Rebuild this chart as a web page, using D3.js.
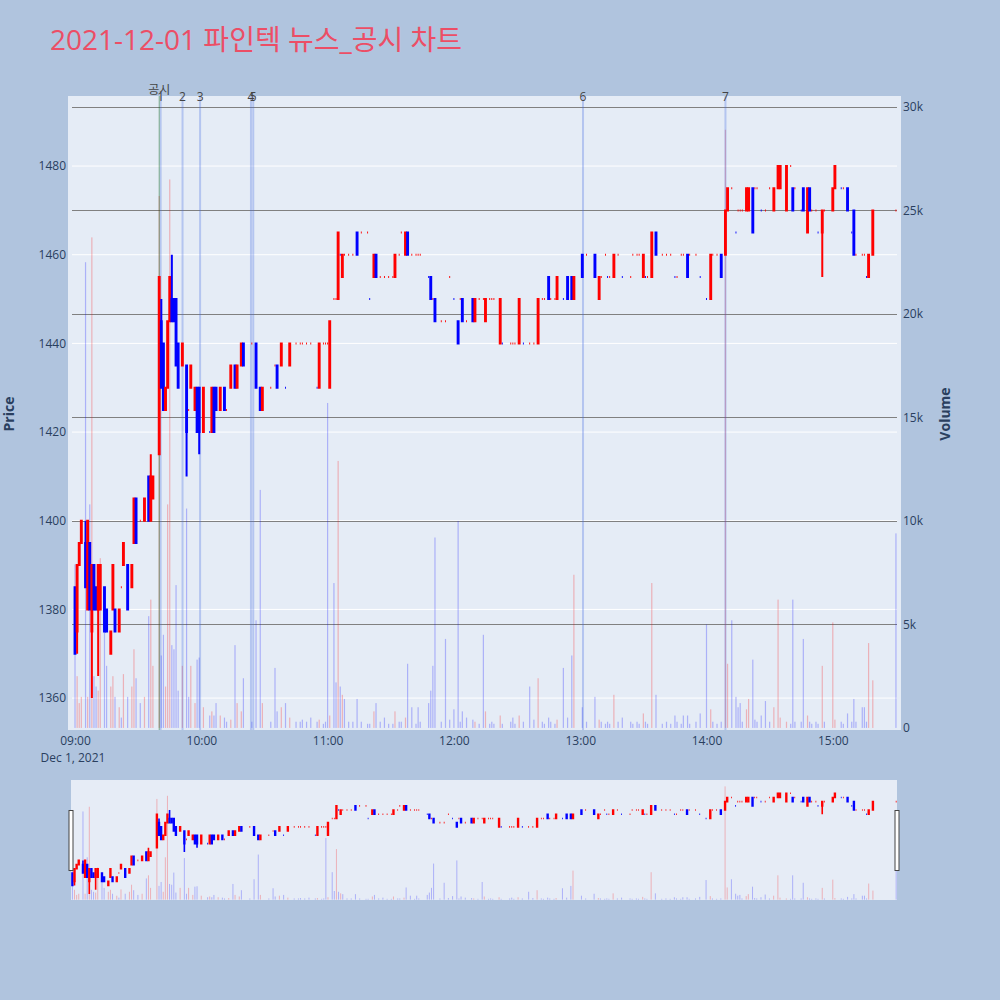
<!DOCTYPE html>
<html><head><meta charset="utf-8">
<script src="https://cdn.jsdelivr.net/npm/d3@7"></script>
<style>body{margin:0;background:#b0c4de;}svg{display:block;font-family:"Open Sans","Noto Sans CJK KR",sans-serif;}</style>
</head><body><svg id="c" width="1000" height="1000"></svg>
<script>
// ---------- DATA ----------
const times = [
 // 09
 "09:00","09:01","09:02","09:03","09:05","09:06","09:07","09:08","09:09","09:10","09:11","09:12","09:14","09:15","09:17","09:18","09:19","09:21","09:22","09:23","09:25","09:27","09:28","09:29","09:31","09:33","09:35","09:36","09:37","09:40","09:41","09:42","09:43","09:44","09:45","09:46","09:47","09:48","09:49","09:51","09:53","09:54","09:55","09:57","09:58","09:59",
 // 10
 "10:01","10:04","10:05","10:06","10:07","10:09","10:11","10:12","10:14","10:16","10:17","10:19","10:20","10:24","10:26","10:28","10:29","10:33","10:35","10:36","10:38","10:40","10:42","10:45","10:47","10:48","10:50","10:52","10:55","10:56","10:58","10:59",
 // 11
 "11:00","11:01","11:03","11:04","11:05","11:06","11:07","11:08","11:10","11:12","11:14","11:16","11:19","11:20","11:22","11:23","11:25","11:27","11:29","11:31","11:32","11:34","11:35","11:37","11:38","11:40","11:42","11:43","11:44","11:48","11:49","11:50","11:51","11:54","11:56","11:58",
 // 12
 "12:00","12:02","12:03","12:04","12:06","12:09","12:10","12:12","12:14","12:15","12:17","12:18","12:19","12:22","12:23","12:27","12:28","12:29","12:31","12:33","12:36","12:38","12:40","12:42","12:43","12:45","12:46","12:48","12:49","12:52","12:54","12:56","12:57",
 // 13
 "13:01","13:03","13:07","13:09","13:10","13:12","13:13","13:14","13:16","13:18","13:20","13:24","13:25","13:27","13:28","13:30","13:31","13:32","13:34","13:36","13:39","13:41","13:43","13:45","13:46","13:48","13:49","13:51","13:52","13:55","13:57",
 // 14
 "14:00","14:02","14:03","14:05","14:07","14:09","14:10","14:12","14:14","14:15","14:16","14:17","14:19","14:20","14:22","14:23","14:24","14:26","14:28","14:30","14:32","14:34","14:35","14:38","14:40","14:41","14:42","14:45","14:46","14:48","14:49","14:50","14:52","14:53","14:55","14:56",
 // 15
 "15:00","15:01","15:04","15:05","15:07","15:09","15:10","15:11","15:14","15:15","15:16","15:17","15:19","15:30"
];
const opens = [
 1385,1375,1390,1395,1395,1380,1395,1375,1390,1385,1380,1380,1385,1380,1370,1380,1380,1375,1385,1390,1390,1385,1395,1405,1400,1400,1410,1400,1405,1415,1445,1440,1425,1430,1445,1450,1450,1450,1440,1435,1435,1425,1430,1425,1430,1430,
 1420,1420,1420,1430,1430,1425,1430,1425,1430,1435,1430,1435,1440,1440,1440,1430,1425,1430,1435,1435,1435,1430,1435,1440,1440,1440,1440,1440,1430,1430,1440,1440,
 1440,1430,1450,1450,1450,1460,1455,1460,1460,1460,1465,1465,1465,1450,1455,1460,1455,1455,1455,1455,1455,1460,1465,1460,1465,1460,1460,1460,1460,1455,1455,1450,1450,1445,1445,1455,
 1450,1445,1450,1450,1445,1450,1445,1450,1450,1445,1450,1450,1450,1440,1440,1440,1440,1440,1440,1440,1440,1440,1440,1450,1450,1455,1450,1450,1450,1450,1455,1455,1450,
 1460,1460,1460,1450,1455,1460,1455,1455,1455,1460,1455,1455,1460,1460,1460,1455,1455,1455,1455,1465,1460,1460,1460,1455,1455,1460,1460,1460,1460,1460,1455,
 1450,1450,1460,1460,1460,1460,1470,1475,1465,1470,1470,1470,1470,1470,1475,1475,1475,1470,1470,1475,1470,1475,1475,1470,1480,1475,1475,1470,1475,1465,1475,1470,1470,1465,1465,1470,
 1470,1475,1475,1475,1475,1465,1470,1460,1460,1460,1455,1455,1460,1470
];
const highs = [
 1385,1390,1395,1400,1400,1400,1395,1390,1390,1385,1390,1390,1385,1380,1375,1390,1380,1380,1385,1395,1390,1390,1405,1405,1400,1405,1410,1415,1410,1455,1450,1440,1430,1445,1455,1460,1450,1450,1440,1440,1435,1425,1435,1430,1430,1430,
 1430,1420,1430,1430,1430,1430,1430,1425,1435,1435,1435,1440,1440,1440,1440,1430,1430,1430,1435,1435,1440,1430,1440,1440,1440,1440,1440,1440,1430,1440,1440,1440,
 1440,1445,1450,1450,1465,1460,1460,1460,1460,1460,1465,1465,1465,1450,1460,1460,1455,1455,1455,1455,1460,1460,1465,1465,1465,1460,1460,1460,1460,1455,1455,1450,1450,1445,1445,1455,
 1450,1445,1450,1450,1445,1450,1450,1450,1450,1450,1450,1450,1450,1450,1440,1440,1440,1440,1450,1440,1440,1440,1450,1450,1450,1455,1450,1450,1455,1450,1455,1455,1455,
 1460,1460,1460,1455,1455,1460,1455,1455,1460,1460,1455,1455,1460,1460,1460,1460,1455,1455,1465,1465,1460,1460,1460,1455,1455,1460,1460,1460,1460,1460,1455,
 1450,1460,1460,1460,1460,1470,1475,1475,1465,1470,1470,1470,1475,1475,1475,1475,1475,1470,1470,1475,1475,1480,1480,1480,1480,1475,1475,1470,1475,1475,1475,1470,1470,1465,1470,1470,
 1475,1480,1475,1475,1475,1465,1470,1460,1460,1460,1455,1460,1470,1470
];
const lows = [
 1370,1370,1390,1395,1385,1380,1380,1360,1380,1380,1365,1380,1375,1375,1370,1380,1375,1375,1385,1390,1380,1385,1395,1395,1400,1400,1400,1400,1405,1415,1430,1425,1425,1430,1445,1445,1445,1435,1430,1435,1410,1425,1430,1425,1420,1415,
 1420,1420,1420,1420,1425,1425,1425,1425,1430,1430,1430,1435,1435,1440,1430,1425,1425,1430,1435,1430,1435,1430,1435,1440,1440,1440,1440,1440,1430,1430,1440,1440,
 1440,1430,1450,1450,1450,1460,1455,1460,1460,1460,1460,1465,1465,1450,1455,1455,1455,1455,1455,1455,1455,1460,1465,1460,1460,1460,1460,1460,1460,1455,1450,1450,1445,1445,1445,1455,
 1450,1440,1450,1445,1445,1445,1445,1450,1450,1445,1450,1450,1450,1440,1440,1440,1440,1440,1440,1440,1440,1440,1440,1450,1450,1450,1450,1450,1450,1450,1450,1450,1450,
 1455,1460,1455,1450,1455,1460,1455,1455,1455,1460,1455,1455,1460,1460,1460,1455,1455,1455,1455,1460,1460,1460,1460,1455,1455,1460,1460,1455,1460,1460,1455,
 1450,1450,1460,1460,1455,1460,1470,1475,1465,1470,1470,1470,1470,1470,1465,1475,1475,1470,1470,1475,1470,1475,1475,1470,1480,1470,1475,1470,1470,1465,1470,1470,1470,1465,1455,1470,
 1470,1475,1475,1475,1470,1465,1460,1460,1460,1460,1455,1455,1460,1470
];
const closes = [
 1370,1390,1395,1400,1385,1400,1380,1390,1380,1380,1390,1390,1375,1375,1375,1390,1375,1380,1385,1395,1380,1390,1405,1395,1400,1405,1400,1410,1410,1455,1430,1425,1430,1445,1455,1445,1445,1435,1430,1440,1420,1425,1435,1430,1420,1420,
 1430,1420,1430,1420,1425,1430,1425,1425,1435,1430,1435,1440,1435,1440,1430,1425,1430,1430,1435,1430,1440,1430,1440,1440,1440,1440,1440,1440,1430,1440,1440,1440,
 1440,1445,1450,1450,1465,1460,1460,1460,1460,1460,1460,1465,1465,1450,1460,1455,1455,1455,1455,1455,1460,1460,1465,1465,1460,1460,1460,1460,1460,1455,1450,1450,1445,1445,1445,1455,
 1450,1440,1450,1445,1445,1445,1450,1450,1450,1450,1450,1450,1450,1450,1440,1440,1440,1440,1450,1440,1440,1440,1450,1450,1450,1450,1450,1450,1455,1450,1450,1450,1455,
 1455,1460,1455,1455,1455,1460,1455,1455,1460,1460,1455,1455,1460,1460,1460,1460,1455,1455,1465,1460,1460,1460,1460,1455,1455,1460,1460,1455,1460,1460,1455,
 1450,1460,1460,1460,1455,1470,1475,1475,1465,1470,1470,1470,1475,1475,1465,1475,1475,1470,1470,1475,1475,1480,1480,1480,1480,1470,1475,1470,1470,1475,1470,1470,1470,1465,1470,1470,
 1475,1480,1475,1475,1470,1465,1460,1460,1460,1460,1455,1460,1470,1470
];
const volumes = [
 7900,2500,1200,1500,22500,1500,10800,23700,2500,2000,1800,8200,6400,3000,2000,2500,1500,1000,500,2600,1500,2000,3800,2400,1200,1500,5400,6200,3000,25700,3500,4500,2000,10800,26500,4000,3800,6900,1800,3000,10600,1500,3000,1200,3300,3400,
 1000,600,800,600,1200,600,500,300,400,4000,1200,800,2400,300,5200,11500,1200,300,2900,800,1000,1200,500,300,300,400,300,500,300,400,200,300,
 15700,600,7000,2200,12900,2000,1600,1400,300,300,1400,300,200,200,800,1200,300,500,200,200,800,300,300,500,3100,1000,200,1000,300,1200,1800,3000,9200,300,4300,400,
 900,10000,300,800,500,400,300,200,4500,800,200,300,200,600,200,300,500,200,600,300,2000,400,2400,300,200,500,300,200,400,2900,500,3500,7400,
 1000,300,1500,400,300,200,300,200,1600,300,500,300,200,300,200,700,300,200,7000,1600,200,300,200,600,300,200,600,600,200,300,700,
 5000,900,300,200,300,28900,3100,5200,1500,1000,1200,300,900,1400,3300,400,300,600,1300,300,1000,6200,500,300,200,6200,300,300,4300,600,300,200,300,200,3000,300,
 5100,400,300,200,700,300,1400,300,1000,1000,300,4100,2300,9400
];
const newsTimes = ["09:40:40","09:51:05","09:59:25","10:23:35","10:24:40","13:01:20","14:09:00"];
const newsLabels = ["1","2","3","4","5","6","7"];
const disclosureTimes = ["09:40:00"];
const disclosureLabels = ["공시"];
const priceTicks = [1360,1380,1400,1420,1440,1460,1480];
const volumeTicks = [0,5000,10000,15000,20000,25000,30000];
const timeTicks = ["09:00","10:00","11:00","12:00","13:00","14:00","15:00"];
const titleText = "2021-12-01 파인텍 뉴스_공시 차트";

// ---------- CHART ----------
const parse = d3.timeParse("%Y-%m-%d %H:%M:%S");
const T = s => parse("2021-12-01 " + (s.length === 5 ? s + ":00" : s));
const data = times.map((t, i) => ({t: T(t), o: opens[i], h: highs[i], l: lows[i], c: closes[i], v: volumes[i]}));
data.forEach((d, i) => {
  d.inc = d.c > d.o || (d.c === d.o && (i === 0 || d.c >= data[i - 1].c));
  d.vinc = d.c > d.o;
});
const INC = "#ff0000", DEC = "#0000ff";
const svg = d3.select("#c");
const P = {x0: 68, x1: 901, y0: 96, y1: 730, gx0: 72, gx1: 897};
const x = d3.scaleTime().domain([T("08:56:40"), T("15:32:24")]).range([P.x0, P.x1]);
const yP = d3.scaleLinear().domain([1352.8, 1495.8]).range([P.y1, P.y0]);
const yV = d3.scaleLinear().domain([-100, 30530]).range([P.y1, P.y0]);

svg.append("rect").attr("width", 1000).attr("height", 1000).attr("fill", "#b0c4de");
svg.append("text").attr("x", 50).attr("y", 50).attr("font-size", 28).attr("fill", "#ec4e66").text(titleText);

// plot background
svg.append("rect").attr("x", P.x0).attr("y", P.y0).attr("width", P.x1 - P.x0).attr("height", P.y1 - P.y0).attr("fill", "#e5ecf6");

// price grid (white)
svg.append("g").selectAll("line").data(priceTicks).join("line")
  .attr("x1", P.gx0).attr("x2", P.gx1).attr("y1", d => yP(d)).attr("y2", d => yP(d))
  .attr("stroke", "#ffffff").attr("stroke-width", 1);
// volume grid (gray)
svg.append("g").selectAll("line").data(volumeTicks.filter(d => d > 0)).join("line")
  .attr("x1", P.gx0).attr("x2", P.gx1).attr("y1", d => Math.round(yV(d)) + 0.5).attr("y2", d => Math.round(yV(d)) + 0.5)
  .attr("stroke", "#808080").attr("stroke-width", 1.2);

function drawVolume(g, xs, yv, w) {
  g.selectAll("rect").data(data).join("rect")
    .attr("x", d => xs(d.t) - w / 2).attr("width", w)
    .attr("y", d => yv(d.v)).attr("height", d => Math.max(0, yv(0) - yv(d.v)))
    .attr("fill", d => d.vinc ? "rgba(255,0,0,0.25)" : "rgba(0,0,255,0.25)");
}
function candlePath(d, xs, yp, hw) {
  const cx = xs(d.t);
  const top = yp(Math.max(d.o, d.c)), bot = yp(Math.min(d.o, d.c));
  return `M${cx - hw},${bot}V${top}H${cx + hw}V${bot}Z` +
         `M${cx},${top}V${yp(d.h)}M${cx},${bot}V${yp(d.l)}`;
}
function drawCandles(g, xs, yp, hw, sw) {
  g.selectAll("path").data(data).join("path")
    .attr("d", d => candlePath(d, xs, yp, hw))
    .attr("fill", d => d.inc ? "rgba(255,0,0,0.5)" : "rgba(0,0,255,0.5)")
    .attr("stroke", d => d.inc ? INC : DEC).attr("stroke-width", sw);
}

drawVolume(svg.append("g"), x, yV, 1.2);

// news lines
const gN = svg.append("g");
gN.selectAll("line").data(newsTimes).join("line")
  .attr("x1", d => x(T(d))).attr("x2", d => x(T(d))).attr("y1", P.y0).attr("y2", P.y1)
  .attr("stroke", "rgba(65,105,225,0.3)").attr("stroke-width", 2);
gN.selectAll("line.d").data(disclosureTimes).join("line").attr("class", "d")
  .attr("x1", d => x(T(d))).attr("x2", d => x(T(d))).attr("y1", P.y0).attr("y2", P.y1)
  .attr("stroke", "rgba(0,100,0,0.45)").attr("stroke-width", 1);

drawCandles(svg.append("g"), x, yP, 0.45, 2);

// news labels
svg.append("g").selectAll("text").data(newsTimes).join("text")
  .attr("x", d => x(T(d))).attr("y", 101).attr("text-anchor", "middle")
  .attr("font-size", 12).attr("fill", "#444").text((d, i) => newsLabels[i]);
svg.append("g").selectAll("text").data(disclosureTimes).join("text")
  .attr("x", d => x(T(d))).attr("y", 94).attr("text-anchor", "middle")
  .attr("font-size", 12).attr("fill", "#444").text((d, i) => disclosureLabels[i]);

// axes
const axisColor = "#2a3f5f";
const gx = svg.append("g").attr("transform", `translate(0,${P.y1})`)
  .call(d3.axisBottom(x).tickValues(timeTicks.map(T)).tickFormat(d3.timeFormat("%H:%M")).tickSize(0).tickPadding(6));
const gl = svg.append("g").attr("transform", `translate(${P.x0},0)`)
  .call(d3.axisLeft(yP).tickValues(priceTicks).tickFormat(d3.format("d")).tickSize(0).tickPadding(2));
const gr = svg.append("g").attr("transform", `translate(${P.x1},0)`)
  .call(d3.axisRight(yV).tickValues(volumeTicks).tickFormat(d3.format("~s")).tickSize(0).tickPadding(2));
[gx, gl, gr].forEach(g => {
  g.select(".domain").remove();
  g.selectAll("text").attr("font-size", 12).attr("fill", axisColor).attr("font-family", "Open Sans");
});
svg.append("text").attr("x", 73).attr("y", 762).attr("text-anchor", "middle")
  .attr("font-size", 12).attr("fill", axisColor).text("Dec 1, 2021");
svg.append("text").attr("transform", "translate(14,414) rotate(-90)").attr("text-anchor", "middle")
  .attr("font-size", 14).attr("font-weight", "bold").attr("fill", axisColor).text("Price");
svg.append("text").attr("transform", "translate(950,414) rotate(-90)").attr("text-anchor", "middle")
  .attr("font-size", 14).attr("font-weight", "bold").attr("fill", axisColor).text("Volume");

// range slider
const S = {x0: 71, x1: 897, y0: 780, y1: 900};
const xs = d3.scaleTime().domain([T("08:59:20"), T("15:30:24")]).range([S.x0, S.x1]);
const ysP = d3.scaleLinear().domain([1352.8, 1495.8]).range([S.y1, S.y0]);
const ysV = d3.scaleLinear().domain([-100, 30530]).range([S.y1, S.y0]);
svg.append("rect").attr("x", S.x0).attr("y", S.y0).attr("width", S.x1 - S.x0).attr("height", S.y1 - S.y0).attr("fill", "#e6ecf6");
drawVolume(svg.append("g"), xs, ysV, 1);
drawCandles(svg.append("g"), xs, ysP, 0.4, 1.6);
[S.x0, S.x1].forEach(px => {
  svg.append("rect").attr("x", px - 2).attr("y", 810.5).attr("width", 4).attr("height", 60)
    .attr("fill", "#fff").attr("stroke", "#444").attr("stroke-width", 1);
});
</script></body></html>
